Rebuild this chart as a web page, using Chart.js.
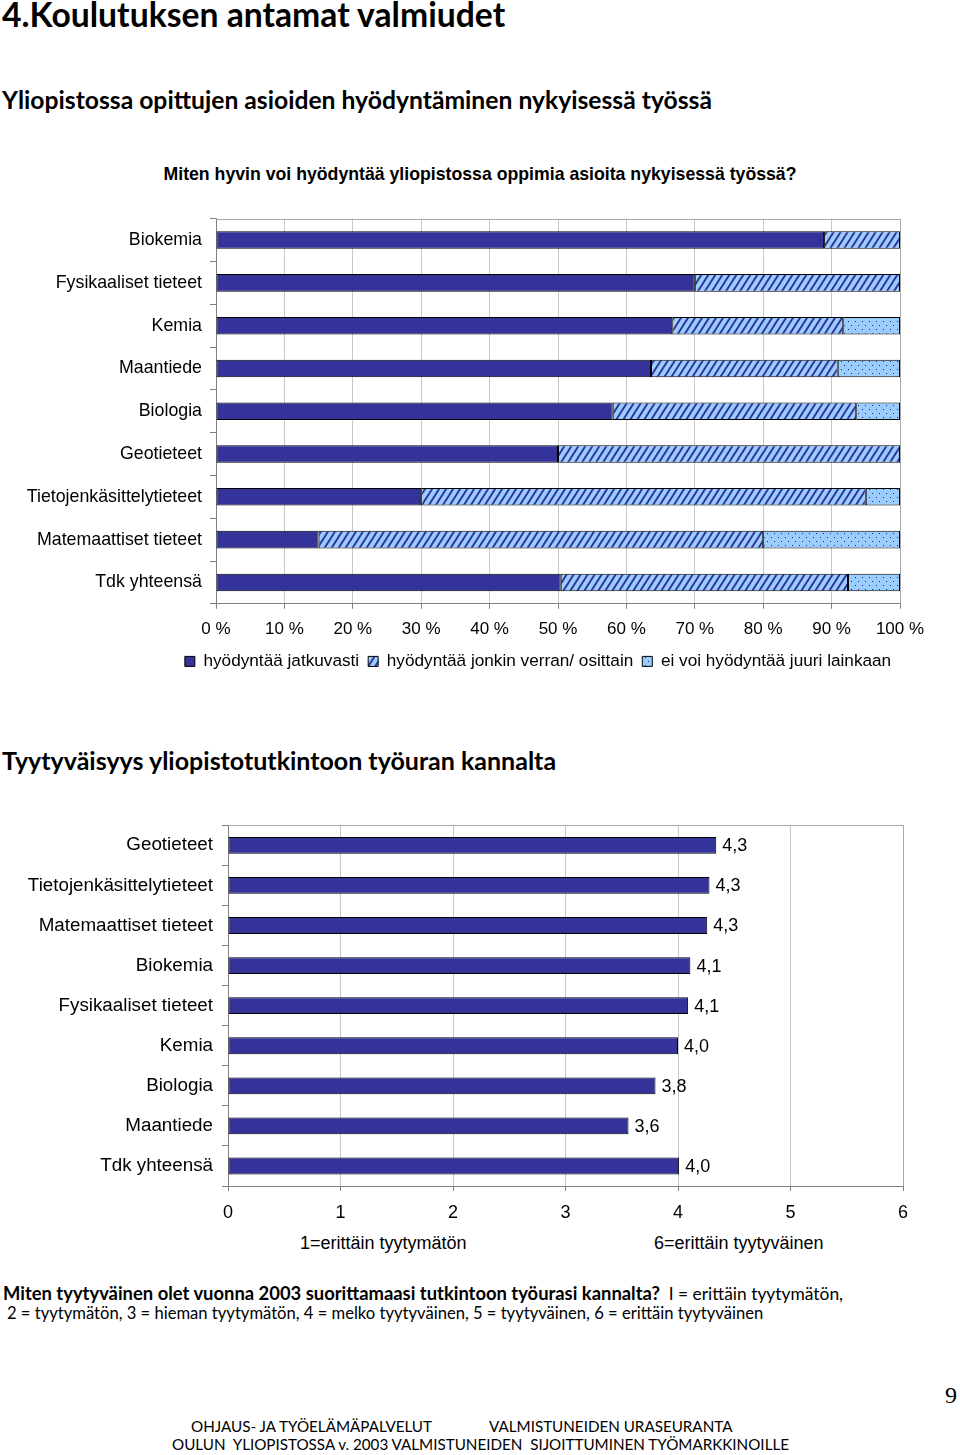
<!DOCTYPE html>
<html lang="fi">
<head>
<meta charset="utf-8">
<title>Koulutuksen antamat valmiudet</title>
<script src="https://cdn.jsdelivr.net/npm/chart.js@4.4.1/dist/chart.umd.min.js"></script>
<style>
    html, body { margin: 0; padding: 0; background: #fff; }
    body { width: 960px; height: 1455px; position: relative; overflow: hidden; color: #000; }
    .t { position: absolute; white-space: pre; line-height: 1; }
    .gill { font-family: Lato, "Open Sans", sans-serif; }
    .arial { font-family: "Liberation Sans", Arial, sans-serif; }
    canvas { position: absolute; left: 0; }
</style>
</head>
<body>
<div class="t gill" style="left:2px; top:-2px; font-size:33.7px; font-weight:700;">4.Koulutuksen antamat valmiudet</div>
<div class="t gill" style="left:2px; top:88px; font-size:24.7px; font-weight:700;">Yliopistossa opittujen asioiden hyödyntäminen nykyisessä työssä</div>
<div class="t arial" style="left:0; width:960px; text-align:center; top:166px; font-size:17.7px; font-weight:700;">Miten hyvin voi hyödyntää yliopistossa oppimia asioita nykyisessä työssä?</div>

<canvas id="useChart" width="940" height="480" style="top:200px;"></canvas>

<div class="t gill" style="left:2px; top:748px; font-size:25px; font-weight:700;">Tyytyväisyys yliopistotutkintoon työuran kannalta</div>

<canvas id="satChart" width="960" height="421" style="top:805px;"></canvas>

<div class="t arial" style="left:300px; top:1234px; font-size:18px;">1=erittäin tyytymätön</div>
<div class="t arial" style="left:654px; top:1234px; font-size:18px;">6=erittäin tyytyväinen</div>

<div class="t gill" style="left:3px; top:1284px; font-size:17.4px;"><b style="font-size:18.4px;">Miten tyytyväinen olet vuonna 2003 suorittamaasi tutkintoon työurasi kannalta?</b>  I = erittäin tyytymätön,</div>
<div class="t gill" style="left:7px; top:1305px; font-size:16.6px;">2 = tyytymätön, 3 = hieman tyytymätön, 4 = melko tyytyväinen, 5 = tyytyväinen, 6 = erittäin tyytyväinen</div>

<div class="t" style="left:945px; top:1383px; font-size:24px; font-family:'Liberation Serif', serif;">9</div>

<div class="t gill" style="left:191px; top:1419px; font-size:15.2px;">OHJAUS- JA TYÖELÄMÄPALVELUT</div>
<div class="t gill" style="left:489px; top:1419px; font-size:15.2px;">VALMISTUNEIDEN URASEURANTA</div>
<div class="t gill" style="left:172px; top:1437px; font-size:15.2px;">OULUN  YLIOPISTOSSA v. 2003 VALMISTUNEIDEN  SIJOITTUMINEN TYÖMARKKINOILLE</div>

<script>
// Top chart: how well can university learning be used in current job (%)
const useCategories = ['Biokemia', 'Fysikaaliset tieteet', 'Kemia', 'Maantiede', 'Biologia',
    'Geotieteet', 'Tietojenkäsittelytieteet', 'Matemaattiset tieteet', 'Tdk yhteensä'];
const useLabels = ['hyödyntää jatkuvasti', 'hyödyntää jonkin verran/ osittain', 'ei voi hyödyntää juuri lainkaan'];
const useAlways = [88.9, 70.0, 66.7, 63.6, 58.0, 50.0, 30.0, 15.0, 50.4];
const useSomewhat = [11.1, 30.0, 25.0, 27.3, 35.6, 50.0, 65.0, 65.0, 42.0];
const useNotAtAll = [0, 0, 8.3, 9.1, 6.4, 0, 5.0, 20.0, 7.6];

// Bottom chart: satisfaction with degree (1-6 scale)
const satCategories = ['Geotieteet', 'Tietojenkäsittelytieteet', 'Matemaattiset tieteet', 'Biokemia',
    'Fysikaaliset tieteet', 'Kemia', 'Biologia', 'Maantiede', 'Tdk yhteensä'];
const satValues = [4.34, 4.28, 4.26, 4.11, 4.09, 4.0, 3.8, 3.56, 4.01];

const NAVY = '#333399';
const LIGHT = '#99ccff';

Chart.defaults.font.family = '"Liberation Sans", Arial, sans-serif';
Chart.defaults.color = '#000';

// diagonal "////" hatch on light blue
function hatchPattern() {
    const w = 7, h = 11;
    const c = document.createElement('canvas');
    c.width = w; c.height = h;
    const g = c.getContext('2d');
    g.fillStyle = LIGHT;
    g.fillRect(0, 0, w, h);
    g.strokeStyle = NAVY;
    g.lineWidth = 2;
    g.beginPath();
    g.moveTo(-1, h + h / w); g.lineTo(w + 1, -h / w);
    g.moveTo(-w - 1, h + h / w); g.lineTo(1, -h / w);
    g.moveTo(w - 1, h + h / w); g.lineTo(2 * w + 1, -h / w);
    g.stroke();
    return g.createPattern(c, 'repeat');
}

// small dots on light blue
function dotPattern() {
    const c = document.createElement('canvas');
    c.width = 7; c.height = 8;
    const g = c.getContext('2d');
    g.fillStyle = LIGHT;
    g.fillRect(0, 0, 7, 8);
    g.fillStyle = '#222266';
    g.fillRect(1, 1, 1, 1);
    g.fillRect(4, 5, 1, 1);
    return g.createPattern(c, 'repeat');
}

// grey frame on top and right of the plot area
const plotFrame = {
    id: 'plotFrame',
    beforeDatasetsDraw(chart) {
        const { ctx, chartArea: a } = chart;
        ctx.save();
        ctx.strokeStyle = '#a8a8a8';
        ctx.lineWidth = 1;
        ctx.beginPath();
        ctx.moveTo(a.left, Math.round(a.top) + 0.5);
        ctx.lineTo(Math.round(a.right) + 0.5, Math.round(a.top) + 0.5);
        ctx.lineTo(Math.round(a.right) + 0.5, a.bottom);
        ctx.stroke();
        ctx.restore();
    }
};

// legend sits off-centre in the original, move it sideways
const shiftLegend = {
    id: 'shiftLegend',
    afterLayout(chart, args, opts) {
        const lg = chart.legend;
        if (lg) {
            lg.left += opts.dx;
            lg.right += opts.dx;
        }
    }
};

// value labels right of the bars, Finnish decimal comma
const valueLabels = {
    id: 'valueLabels',
    afterDatasetsDraw(chart) {
        const ctx = chart.ctx;
        const ds = chart.data.datasets[0];
        ctx.save();
        ctx.font = '18px "Liberation Sans", Arial, sans-serif';
        ctx.fillStyle = '#000';
        ctx.textAlign = 'left';
        ctx.textBaseline = 'middle';
        chart.getDatasetMeta(0).data.forEach((bar, i) => {
            ctx.fillText(ds.data[i].toFixed(1).replace('.', ','), bar.x + 6, bar.y + 1);
        });
        ctx.restore();
    }
};

new Chart(document.getElementById('useChart'), {
    type: 'bar',
    data: {
        labels: useCategories,
        datasets: [
            { label: useLabels[0], data: useAlways, backgroundColor: NAVY },
            { label: useLabels[1], data: useSomewhat, backgroundColor: hatchPattern() },
            { label: useLabels[2], data: useNotAtAll, backgroundColor: dotPattern() }
        ]
    },
    options: {
        indexAxis: 'y',
        responsive: false,
        animation: false,
        layout: { padding: { left: 0, right: 40, top: 16, bottom: 0 } },
        datasets: {
            bar: { borderColor: '#000', borderWidth: 1, borderSkipped: false, barPercentage: 0.41, categoryPercentage: 1 }
        },
        plugins: {
            legend: {
                position: 'bottom',
                labels: { boxWidth: 10, boxHeight: 10, padding: 9, font: { size: 17.2 }, color: '#000' }
            },
            tooltip: { enabled: false },
            shiftLegend: { dx: 88 }
        },
        scales: {
            x: {
                stacked: true,
                min: 0,
                max: 100,
                ticks: { stepSize: 10, callback: v => v + ' %', font: { size: 17 }, padding: 10, maxRotation: 0 },
                grid: { color: '#c8c8c8', tickColor: '#808080', tickLength: 5 },
                border: { color: '#808080' },
                afterFit: s => { s.height = 40; }
            },
            y: {
                stacked: true,
                ticks: { font: { size: 17.8 }, padding: 8 },
                grid: { drawOnChartArea: false, color: '#808080', tickLength: 6 },
                border: { color: '#808080' },
                afterFit: s => { s.width = 216; }
            }
        }
    },
    plugins: [plotFrame, shiftLegend]
});

new Chart(document.getElementById('satChart'), {
    type: 'bar',
    data: {
        labels: satCategories,
        datasets: [{
            data: satValues,
            backgroundColor: NAVY,
            borderColor: '#000',
            borderWidth: 1,
            borderSkipped: false,
            barPercentage: 0.42,
            categoryPercentage: 1
        }]
    },
    options: {
        indexAxis: 'y',
        responsive: false,
        animation: false,
        layout: { padding: { left: 0, right: 57, top: 14, bottom: 0 } },
        plugins: { legend: { display: false }, tooltip: { enabled: false } },
        scales: {
            x: {
                min: 0,
                max: 6,
                ticks: { stepSize: 1, font: { size: 18 }, padding: 11, maxRotation: 0 },
                grid: { color: '#c8c8c8', tickColor: '#808080', tickLength: 5 },
                border: { color: '#808080' },
                afterFit: s => { s.height = 40; }
            },
            y: {
                ticks: { font: { size: 18.8 }, padding: 9 },
                grid: { drawOnChartArea: false, color: '#808080', tickLength: 6 },
                border: { color: '#808080' },
                afterFit: s => { s.width = 228; }
            }
        }
    },
    plugins: [plotFrame, valueLabels]
});
</script>
</body>
</html>
